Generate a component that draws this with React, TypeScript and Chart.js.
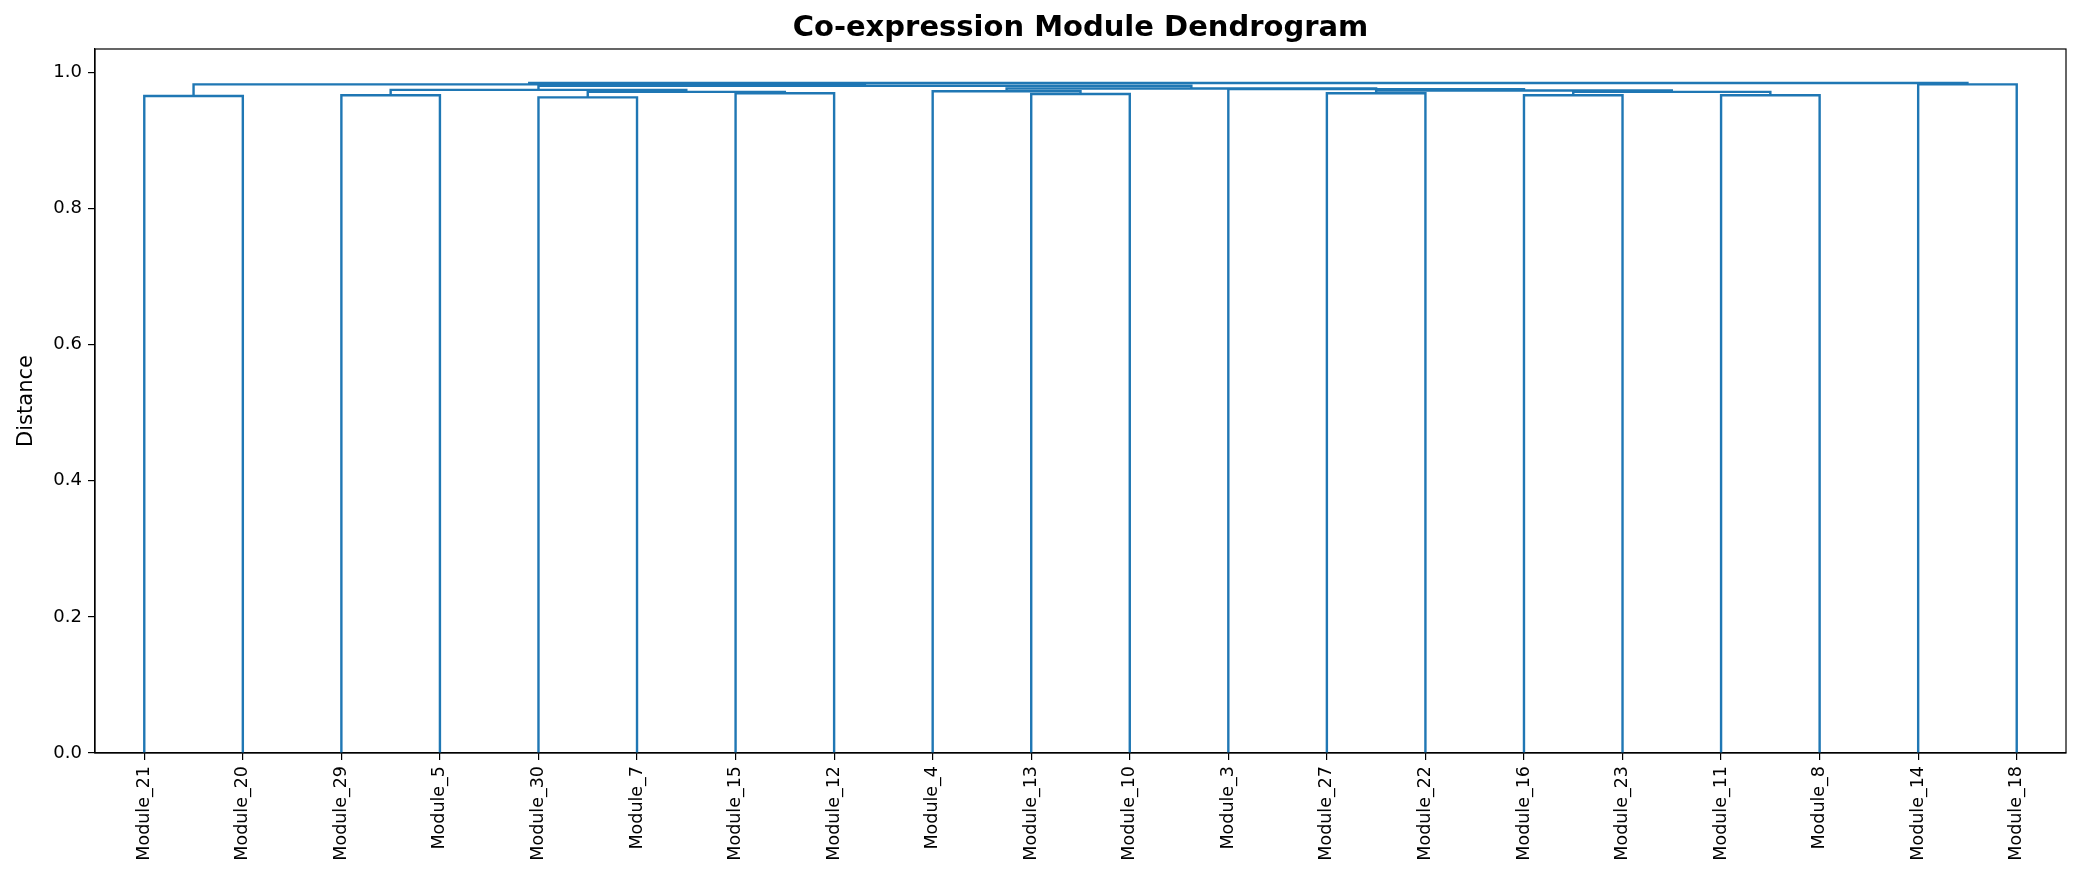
import { useEffect, useRef } from 'react'
import { Chart, registerables } from 'chart.js'

Chart.register(...registerables)

// leaves in dendrogram order (left to right)
const leafLabels = [
  'Module_21', 'Module_20', 'Module_29', 'Module_5', 'Module_30', 'Module_7',
  'Module_15', 'Module_12', 'Module_4', 'Module_13', 'Module_10', 'Module_3',
  'Module_27', 'Module_22', 'Module_16', 'Module_23', 'Module_11', 'Module_8',
  'Module_14', 'Module_18',
]

// linkage rows: ids < 20 are leaves, id 20 + k is the cluster made by row k
const linkLeft = [0, 2, 4, 6, 9, 12, 14, 16, 18, 22, 8, 26, 25, 11, 30, 21, 35, 20, 37]
const linkRight = [1, 3, 5, 7, 10, 13, 15, 17, 19, 23, 24, 27, 31, 32, 33, 29, 34, 36, 28]
const linkHeight = [
  0.965, 0.966, 0.963, 0.969, 0.968, 0.969, 0.966, 0.966, 0.982, 0.971,
  0.972, 0.971, 0.973, 0.975, 0.976, 0.974, 0.980, 0.982, 0.984,
]

const yTicks = [0.0, 0.2, 0.4, 0.6, 0.8, 1.0]

const TITLE = 'Co-expression Module Dendrogram'
const FONT = "'DejaVu Sans', sans-serif"
const BLUE = '#1f77b4'

// U-shaped segment per merge, like scipy's dendrogram (leaf i sits at x = 5 + 10i)
function buildLinks() {
  const xs = leafLabels.map((_, i) => 5 + 10 * i)
  const hs = leafLabels.map(() => 0)
  const segs: { x: number; y: number }[][] = []
  linkLeft.forEach((l, k) => {
    const r = linkRight[k]
    const h = linkHeight[k]
    segs.push([
      { x: xs[l], y: hs[l] },
      { x: xs[l], y: h },
      { x: xs[r], y: h },
      { x: xs[r], y: hs[r] },
    ])
    xs.push((xs[l] + xs[r]) / 2)
    hs.push(h)
  })
  return segs
}

// axes box + title centred over the axes (matplotlib style)
const frame = {
  id: 'frame',
  afterDraw(chart: Chart) {
    const { ctx, chartArea: a } = chart
    ctx.save()
    ctx.strokeStyle = '#000'
    ctx.lineWidth = 1.2
    ctx.strokeRect(a.left, a.top, a.right - a.left, a.bottom - a.top)
    ctx.fillStyle = '#000'
    ctx.font = `bold 29px ${FONT}`
    ctx.textAlign = 'center'
    ctx.textBaseline = 'middle'
    ctx.fillText(TITLE, (a.left + a.right) / 2, 28)
    ctx.restore()
  },
}

export default function App() {
  const canvasRef = useRef<HTMLCanvasElement>(null)
  const chartRef = useRef<Chart | null>(null)

  useEffect(() => {
    document.body.style.margin = '0'
    const canvas = canvasRef.current
    if (!canvas) return
    chartRef.current?.destroy()
    chartRef.current = new Chart(canvas, {
      type: 'scatter',
      data: {
        datasets: buildLinks().map((pts) => ({
          data: pts,
          showLine: true,
          borderColor: BLUE,
          borderWidth: 2.4,
          pointRadius: 0,
          fill: false,
        })),
      },
      options: {
        responsive: false,
        devicePixelRatio: 1,
        animation: false,
        layout: { padding: { top: 49, right: 16, bottom: 0, left: 0 } },
        scales: {
          x: {
            type: 'linear',
            min: 0,
            max: 10 * leafLabels.length,
            afterBuildTicks: (s) => {
              s.ticks = leafLabels.map((_, i) => ({ value: 5 + 10 * i }))
            },
            afterFit: (s) => { s.height = 131 },
            ticks: {
              autoSkip: false,
              minRotation: 90,
              maxRotation: 90,
              padding: 6,
              color: '#000',
              font: { family: FONT, size: 17.5 },
              callback: (v) => leafLabels[Math.round((Number(v) - 5) / 10)],
            },
            grid: { drawOnChartArea: false, drawTicks: true, tickLength: 7, color: '#000', lineWidth: 1.2 },
            border: { display: true, color: '#000', width: 1.2 },
          },
          y: {
            type: 'linear',
            min: 0,
            max: 1.034,
            afterBuildTicks: (s) => {
              s.ticks = yTicks.map((v) => ({ value: v }))
            },
            afterFit: (s) => { s.width = 95 },
            ticks: {
              padding: 6,
              color: '#000',
              font: { family: FONT, size: 18 },
              callback: (v) => Number(v).toFixed(1),
            },
            grid: { drawOnChartArea: false, drawTicks: true, tickLength: 7, color: '#000', lineWidth: 1.2 },
            border: { display: true, color: '#000', width: 1.2 },
            title: {
              display: true,
              text: 'Distance',
              color: '#000',
              padding: { top: 14, bottom: 0 },
              font: { family: FONT, size: 21 },
            },
          },
        },
        plugins: {
          legend: { display: false },
          tooltip: { enabled: false },
          title: { display: false },
        },
      },
      plugins: [frame],
    })
    return () => { chartRef.current?.destroy() }
  }, [])

  return (
    <div style={{ width: 2082, height: 884 }}>
      <canvas ref={canvasRef} width={2082} height={884} style={{ display: 'block' }} />
    </div>
  )
}
